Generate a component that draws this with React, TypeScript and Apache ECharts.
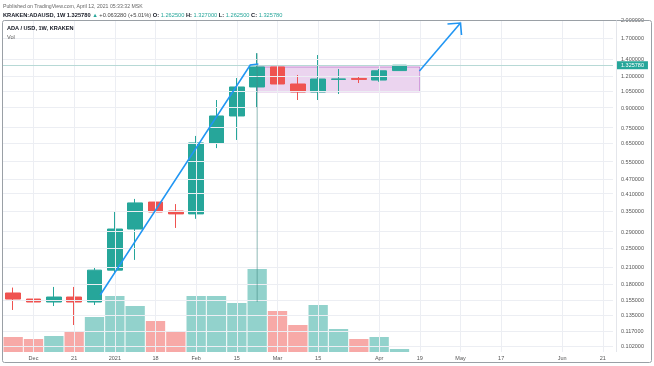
import React, { useEffect, useRef } from 'react';
import * as echarts from 'echarts';

// Weekly candles (Monday of each week)
const weeks = [
  '2020-11-30', '2020-12-07', '2020-12-14', '2020-12-21', '2020-12-28',
  '2021-01-04', '2021-01-11', '2021-01-18', '2021-01-25', '2021-02-01',
  '2021-02-08', '2021-02-15', '2021-02-22', '2021-03-01', '2021-03-08',
  '2021-03-15', '2021-03-22', '2021-03-29', '2021-04-05', '2021-04-12',
  '2021-04-19', '2021-04-26', '2021-05-03', '2021-05-10', '2021-05-17',
  '2021-05-24', '2021-05-31', '2021-06-07', '2021-06-14', '2021-06-21',
];
const dateLabels = [
  '', 'Dec', '', '21', '', '2021', '', '18', '', 'Feb', '', '15', '', 'Mar', '',
  '15', '', '', 'Apr', '', '19', '', 'May', '', '17', '', '', 'Jun', '', '21',
];

const openP = [0.1656, 0.1567, 0.1525, 0.1596, 0.1525, 0.204, 0.297, 0.380, 0.350, 0.341,
  0.652, 0.834, 1.087, 1.305, 1.117, 1.038, 1.165, 1.175, 1.158, 1.2625];
const closeP = [0.1567, 0.1525, 0.1596, 0.1525, 0.204, 0.297, 0.377, 0.347, 0.341, 0.652,
  0.834, 1.087, 1.305, 1.117, 1.038, 1.169, 1.170, 1.165, 1.26, 1.32578];
const lowP = [0.1418, 0.127, 0.147, 0.1236, 0.1484, 0.200, 0.224, 0.276, 0.300, 0.326,
  0.622, 0.670, 0.90, 1.029, 0.965, 0.965, 1.02, 1.127, 1.14, 1.2625];
const highP = [0.174, 0.158, 0.175, 0.175, 0.21, 0.350, 0.391, 0.391, 0.373, 0.695,
  0.965, 1.180, 1.48, 1.353, 1.213, 1.455, 1.281, 1.202, 1.281, 1.327];
const volume = [150, 130, 160, 210, 350, 560, 460, 310, 210, 560,
  560, 490, 830, 410, 270, 470, 230, 130, 150, 30];

const priceTicks = [2.0, 1.7, 1.4, 1.2, 1.05, 0.9, 0.75, 0.65, 0.55, 0.47, 0.41, 0.35,
  0.29, 0.25, 0.21, 0.18, 0.155, 0.135, 0.117, 0.102];
const lastPrice = 1.32578;

// Drawings, in data coordinates: [week index, price]
const rangeBox = [[12, 1.305], [20, 1.04]];
const arrowOne = [[4.28, 0.1626], [11.66, 1.3286], [12.06, 1.341]];
const arrowTwo = [[19.98, 1.258], [22.0, 1.95]];
const arrowTwoHead = [[21.36, 1.932], [22.0, 1.95], [22.05, 1.747]];
const markerLine = [[12, 1.48], [12, 0.1525]];

const UP = '#26a69a';
const DOWN = '#ef5350';
const FONT = 'Liberation Sans';

export default function App() {
  const ref = useRef<HTMLDivElement>(null);
  useEffect(() => {
    const chart = echarts.init(ref.current!, null, { renderer: 'svg' });
    const candleData = openP.map((o, i) => [o, closeP[i], lowP[i], highP[i]]);
    const volData = volume.map((v, i) => ({
      value: v,
      itemStyle: { color: closeP[i] >= openP[i] ? 'rgba(38,166,154,0.5)' : 'rgba(239,83,80,0.5)' },
    }));
    const hLines = priceTicks.map((p) => ({ yAxis: p, label: { show: true, formatter: p.toFixed(6) } }));
    const vLines: any[] = [];
    dateLabels.forEach((l, i) => {
      if (l) vLines.push({ xAxis: i, label: { show: false } });
    });

    chart.setOption({
      animation: false,
      grid: [
        { left: 3, top: 20, width: 610, height: 332 },
        { left: 3, top: 252, width: 610, height: 100 },
      ],
      xAxis: [
        { type: 'category', data: weeks, gridIndex: 0, show: false, boundaryGap: true },
        {
          type: 'category', data: weeks, gridIndex: 1, boundaryGap: true,
          axisLine: { show: false }, axisTick: { show: false }, splitLine: { show: false },
          axisLabel: {
            interval: (i: number) => dateLabels[i] !== '',
            formatter: (_v: string, i: number) => dateLabels[i],
            fontSize: 5.5, color: '#555', margin: 2.5, fontFamily: FONT,
          },
        },
      ],
      yAxis: [
        { type: 'log', gridIndex: 0, min: 0.0966, max: 2.004, show: false },
        { type: 'value', gridIndex: 1, min: 0, max: 1000, show: false },
      ],
      series: [
        {
          type: 'line', xAxisIndex: 0, yAxisIndex: 0, data: [], z: 0, silent: true,
          markLine: {
            silent: true, symbol: ['none', 'none'], animation: false, precision: 6,
            lineStyle: { color: '#eceef3', width: 1, type: 'solid' },
            label: { position: 'end', distance: 8, fontSize: 5.5, color: '#555', fontFamily: FONT },
            emphasis: { disabled: true },
            data: [...hLines, ...vLines],
          },
        },
        {
          type: 'bar', xAxisIndex: 1, yAxisIndex: 1, data: volData, barCategoryGap: '5%', z: 1, silent: true,
        },
        {
          type: 'candlestick', xAxisIndex: 0, yAxisIndex: 0, data: candleData, barWidth: 15, z: 2,
          itemStyle: { color: UP, color0: DOWN, borderColor: UP, borderColor0: DOWN, borderWidth: 1 },
          markLine: {
            silent: true, symbol: ['none', 'none'], animation: false, precision: 6,
            lineStyle: { color: '#b7d9d6', width: 1, type: 'solid' },
            emphasis: { disabled: true },
            label: {
              position: 'end', distance: 4, fontSize: 5.5, color: '#fff', fontFamily: FONT,
              backgroundColor: UP, padding: [1, 4],
            },
            data: [{ yAxis: lastPrice, label: { formatter: lastPrice.toFixed(6) } }],
          },
        },
      ],
    });

    const x0 = chart.convertToPixel({ xAxisIndex: 0 }, 0) as number;
    const x1 = chart.convertToPixel({ xAxisIndex: 0 }, 1) as number;
    const px = (pt: number[]) => [x0 + (x1 - x0) * pt[0], chart.convertToPixel({ yAxisIndex: 0 }, pt[1]) as number];
    const boxA = px(rangeBox[0]);
    const boxB = px(rangeBox[1]);
    const mA = px(markerLine[0]);
    const mB = px(markerLine[1]);

    chart.setOption({
      graphic: [
        {
          type: 'rect', z: 1, silent: true,
          shape: { x: boxA[0], y: boxA[1], width: boxB[0] - boxA[0], height: boxB[1] - boxA[1] },
          style: { fill: 'rgba(156,39,176,0.2)', stroke: 'rgba(156,39,176,0.5)', lineWidth: 1 },
        },
        {
          type: 'line', z: 10, silent: true,
          shape: { x1: mA[0], y1: mA[1], x2: mB[0], y2: mB[1] },
          style: { stroke: 'rgba(70,140,135,0.6)', lineWidth: 1 },
        },
        {
          type: 'polyline', z: 10, silent: true,
          shape: { points: arrowOne.map(px) },
          style: { stroke: '#2196f3', lineWidth: 1.6, fill: null },
        },
        {
          type: 'polyline', z: 10, silent: true,
          shape: { points: arrowTwo.map(px) },
          style: { stroke: '#2196f3', lineWidth: 1.6, fill: null },
        },
        {
          type: 'polyline', z: 10, silent: true,
          shape: { points: arrowTwoHead.map(px) },
          style: { stroke: '#2196f3', lineWidth: 1.6, fill: null },
        },
        {
          type: 'rect', z: 20, silent: true,
          shape: { x: 2.5, y: 20.5, width: 649, height: 342, r: 2 },
          style: { fill: null, stroke: '#9aa0a6', lineWidth: 1 },
        },
        {
          type: 'line', z: 20, silent: true,
          shape: { x1: 616.5, y1: 20.5, x2: 616.5, y2: 352 },
          style: { stroke: '#e4e6eb', lineWidth: 1 },
        },
        {
          type: 'text', x: 3, y: 6, z: 20, silent: true,
          style: {
            text: 'Published on TradingView.com, April 12, 2021 05:33:32 MSK',
            fontSize: 5.2, fontFamily: FONT, fill: '#666',
            verticalAlign: 'middle', textVerticalAlign: 'middle',
          },
        },
        {
          type: 'text', x: 3, y: 15, z: 20, silent: true,
          style: {
            text: '{b|KRAKEN:ADAUSD, 1W 1.325780 }{g|▲}{d| +0.063280 (+5.01%) }{b|O:}{g| 1.262500 }{b|H:}{g| 1.327000 }{b|L:}{g| 1.262500 }{b|C:}{g| 1.325780}',
            fontSize: 5.7, fontFamily: FONT,
            verticalAlign: 'middle', textVerticalAlign: 'middle',
            rich: {
              b: { fontSize: 5.7, fontFamily: FONT, fontWeight: 'bold', fill: '#131722', color: '#131722' },
              g: { fontSize: 5.7, fontFamily: FONT, fill: UP, color: UP },
              d: { fontSize: 5.7, fontFamily: FONT, fill: '#444', color: '#444' },
            },
          },
        },
        {
          type: 'text', x: 7, y: 28, z: 20, silent: true,
          style: {
            text: 'ADA / USD, 1W, KRAKEN', fontSize: 5.6, fontWeight: 'bold', fontFamily: FONT, fill: '#131722',
            verticalAlign: 'middle', textVerticalAlign: 'middle',
          },
        },
        {
          type: 'text', x: 7, y: 37, z: 20, silent: true,
          style: {
            text: 'Vol', fontSize: 5.6, fontFamily: FONT, fill: '#555',
            verticalAlign: 'middle', textVerticalAlign: 'middle',
          },
        },
      ],
    });

    return () => chart.dispose();
  }, []);
  return <div ref={ref} style={{ position: 'fixed', left: 0, top: 0, width: 654, height: 366 }} />;
}
